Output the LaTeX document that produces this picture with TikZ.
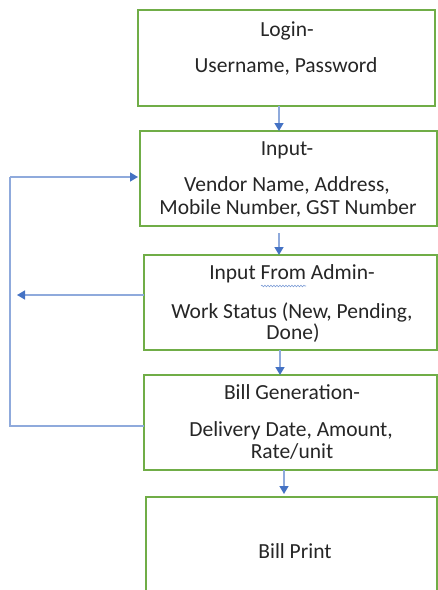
\documentclass[tikz,border=0pt]{standalone}
\usepackage{fontspec}
\setmainfont{Carlito}
\usetikzlibrary{arrows.meta,decorations.pathmorphing}
\definecolor{boxgreen}{HTML}{70AD47}
\definecolor{arrblue}{HTML}{4472C4}
\definecolor{lineblue}{HTML}{8FAADC}
\begin{document}
\begin{tikzpicture}[x=1pt,y=-1pt,
  stepbox/.style={draw=boxgreen,line width=2.5pt,fill=white,rectangle,inner sep=0pt,outer sep=0pt},
  txt/.style={anchor=mid,inner sep=0pt,text=black!85,font=\fontsize{21.5}{24}\selectfont},
  arr/.style={draw=lineblue,line width=1.5pt,-{Triangle[length=8pt,width=9pt,color=arrblue]}},
  fb/.style={draw=lineblue,line width=1.5pt}]
\useasboundingbox (0,0) rectangle (438,590);
\clip (0,0) rectangle (438,590);
% boxes
\node[stepbox,minimum width=297pt,minimum height=96pt] (b1) at (286.5,58) {};
\node[stepbox,minimum width=297pt,minimum height=95pt] (b2) at (288.5,178.5) {};
\node[stepbox,minimum width=293pt,minimum height=95pt] (b3) at (290.5,302.5) {};
\node[stepbox,minimum width=293pt,minimum height=95pt] (b4) at (290.5,422.5) {};
\node[stepbox,minimum width=291pt,minimum height=110pt] (b5) at (291.5,552) {};
% texts
\node[txt] (t1a) at (287,34) {Login-};
\node[txt] (t1b) at (286,70) {Username, Password};
\node[txt] (t2a) at (287,153) {Input-};
\node[txt] (t2b) at (287,189) {Vendor Name, Address,};
\node[txt] (t2c) at (288,212) {Mobile Number, GST Number};
\node[txt] (t3a) at (292,277) {Input From Admin-};
\node[txt] (t3b) at (292,316) {Work Status (New, Pending,};
\node[txt] (t3c) at (293,337) {Done)};
\node[txt] (t4a) at (292,397) {Bill Generation-};
\node[txt] (t4b) at (291,434) {Delivery Date, Amount,};
\node[txt] (t4c) at (292,456) {Rate/unit};
\node[txt] (t5a) at (295,556) {Bill Print};
% spell-check squiggle under "From"
\draw[arrblue!70,line width=0.6pt,decorate,decoration={snake,amplitude=0.8pt,segment length=3pt}] (261,286) -- (306,286);
% downward arrows
\draw[arr] ([xshift=-7.5pt]b1.south) -- ([xshift=-7.5pt]b1.south |- b2.north);
\draw[arr,shorten <=7pt] ([xshift=-9.5pt]b2.south) -- ([xshift=-9.5pt]b2.south |- b3.north);
\draw[arr] ([xshift=-10.5pt]b3.south) -- ([xshift=-10.5pt]b3.south |- b4.north);
\draw[arr,shorten >=3pt] ([xshift=-6.5pt]b4.south) -- ([xshift=-6.5pt]b4.south |- b5.north);
% feedback loop
\coordinate (c1) at (10,426);
\coordinate (c2) at (10,177);
\coordinate (c3) at (17,295);
\draw[fb] (c1 -| b4.west) -- (c1) -- (c2);
\draw[arr,shorten >=2pt] (c2) -- (c2 -| b2.west);
\draw[arr] (c3 -| b3.west) -- (c3);
\end{tikzpicture}
\end{document}
